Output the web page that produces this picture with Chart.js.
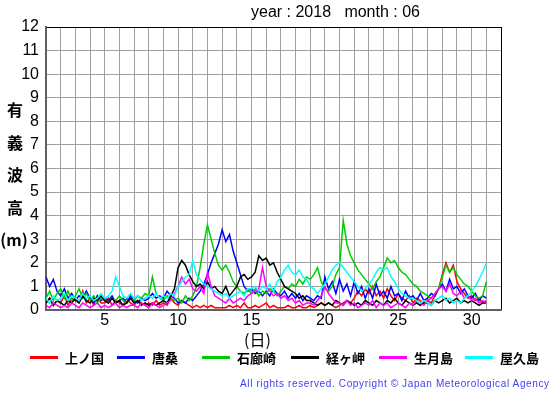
<!DOCTYPE html>
<html>
<head>
<meta charset="utf-8">
<script src="https://cdn.jsdelivr.net/npm/chart.js@4/dist/chart.umd.min.js"></script>
<style>
  body { margin: 0; background: #fff; }
  #wrap { position: relative; width: 555px; height: 395px; overflow: hidden; }
  #chart { position: absolute; left: 0; top: 0; }
  .txt { position: absolute; white-space: pre; color: #000; }
  .title { font: 16px "Liberation Sans", Arial, sans-serif; left: 251px; top: 3px; }
  .ylab { font: bold 16px "Noto Sans CJK JP", sans-serif; left: 6px; width: 18px; text-align: center; line-height: 18px; }
  .xlab { font: 16px "Noto Sans CJK JP", sans-serif; left: 244px; top: 327px; }
  .leg { position: absolute; top: 349px; height: 18px; }
  .leg span.line { position: absolute; left: 0; top: 7px; width: 28px; height: 3px; }
  .leg span.name { position: absolute; left: 35px; top: 0; font: bold 13px "Noto Sans CJK JP", sans-serif; line-height: 18px; white-space: pre; }
  .copy { font: 10px "Liberation Sans", Arial, sans-serif; color: #4040f0; left: 240px; top: 378px; letter-spacing: 0.63px; }
</style>
</head>
<body>
<div id="wrap">
  <canvas id="chart" width="555" height="395"></canvas>
  <div class="txt title">year : 2018   month : 06</div>
  <div class="txt ylab" style="top:100px">有</div>
  <div class="txt ylab" style="top:133px">義</div>
  <div class="txt ylab" style="top:165px">波</div>
  <div class="txt ylab" style="top:198px">高</div>
  <div class="txt ylab" style="top:230px;left:0;width:28px">(m)</div>
  <div class="txt xlab">(日)</div>
  <div id="legend"></div>
  <div class="txt copy">All rights reserved. Copyright © Japan Meteorological Agency</div>
</div>
<script>
// wave height (m), every 6 hours from June 1 00:00 to July 1 00:00
const stations = ['上ノ国', '唐桑', '石廊崎', '経ヶ岬', '生月島', '屋久島'];
const colors = ['#ff0000', '#0000ff', '#00cc00', '#000000', '#ff00ff', '#00ffff'];
const startDay = 1;
const step = 0.25;
const yTicks = [0, 1, 2, 3, 4, 5, 6, 7, 8, 9, 10, 11, 12];
const xTickLabels = [5, 10, 15, 20, 25, 30];

const kaminokuni = [
  .3,.5,.2,.4, .3,.6,.2,.5, .4,.3,.8,.3, .5,.2,.6,.3, .3,.5,.2,.4,
  .3,.2,.5,.3, .2,.4,.3,.2, .3,.2,.4,.2, .3,.2,.5,.3, .2,.4,.3,.2,
  .1,.2,.1,.2, .1,.2,.1,.1, .1,.1,.2,.1, .2,.1,.3,.1, .1,.2,.1,.2,
  .3,.1,.2,.1, .1,.1,.2,.1, .1,.2,.1,.1, .2,.1,.2,.3, .2,.3,.2,.1,
  .2,.3,.4,.3, .5,.8,.6,.9, .7,1.0,.6,.8, .5,.9,.6,.4, .7,.5,.4,.6,
  .3,.5,.4,.3, .4,.3,.6,.9, 1.5,2.0,1.6,1.9, 1.2,.9,.7,.5, .6,.4,.5,.3,
  .4
];
const karakuwa = [
  1.4,1.0,1.3,.8, .6,.9,.5,.7, .4,.6,.5,.8, .5,.3,.6,.4, .5,.4,.6,.3,
  .4,.5,.3,.6, .4,.3,.5,.4, .5,.7,.5,.6, .5,.8,.6,.5, .3,.4,.3,.5,
  .4,.6,.8,1.1, 1.5,2.0,2.4,2.8, 3.4,2.9,3.2,2.5, 2.0,1.5,1.0,.8, .9,.7,.8,.6,
  .8,.6,.9,.7, .6,.8,.5,.7, .5,.7,.4,.6, .5,.4,.6,.5, 1.4,.9,1.2,.7,
  1.3,.8,1.1,.6, 1.2,.7,1.0,.5, .9,.5,1.1,.6, .8,.5,1.0,.6, .7,.4,.8,.5,
  .6,.4,.7,.4, .5,.7,.6,.9, 1.1,.8,1.3,.9, 1.0,.7,.9,.6, .5,.7,.4,.6,
  .5
];
const irozaki = [
  .5,.8,.4,.7, .9,.5,.8,.4, .6,.9,.5,.7, .4,.6,.3,.5, .4,.3,.5,.4,
  .6,.4,.3,.5, .4,.6,.5,.7, .6,1.4,.7,.5, .4,.6,.5,.4, .5,.3,.6,.4,
  .6,1.0,1.8,2.8, 3.6,3.0,2.4,1.9, 1.7,1.9,1.6,1.2, 1.0,.8,.7,.9, .7,.9,.6,.8,
  .7,.9,.8,.6, .8,1.0,.9,1.1, 1.0,1.3,1.1,1.4, 1.3,1.5,1.8,1.2, .9,.8,1.0,1.5,
  1.8,3.8,2.8,2.3, 2.0,1.7,1.5,1.3, 1.1,.9,1.2,1.4, 1.8,2.2,2.0,2.1, 1.8,1.6,1.5,1.3,
  1.1,1.0,.8,.7, .6,.5,.7,.9, 1.4,1.9,1.6,1.8, 1.5,1.3,1.1,1.0, .8,.6,.5,.6,
  1.2
];
const kyogamisaki = [
  .3,.5,.2,.4, .3,.2,.4,.3, .5,.3,.6,.4, .3,.5,.4,.6, .4,.3,.5,.3,
  .4,.2,.3,.5, .3,.4,.2,.3, .2,.3,.2,.3, .4,.3,.6,.9, 1.8,2.1,1.9,1.5,
  1.2,1.0,1.1,.9, 1.2,.9,1.0,.8, .7,1.0,.6,.8, 1.0,1.4,1.5,1.3, 1.4,1.6,2.3,2.1,
  2.2,1.9,2.0,1.6, 1.3,1.0,.9,.8, .7,.5,.6,.4, .4,.3,.2,.3, .2,.3,.2,.4,
  .3,.2,.4,.3, .2,.3,.2,.4, .3,.2,.4,.3, .2,.4,.3,.5, .3,.2,.4,.3,
  .2,.3,.2,.3, .3,.2,.4,.3, .4,.5,.3,.4, .5,.3,.4,.3, .4,.3,.2,.3,
  .3
];
const ikitsukishima = [
  .2,.1,.3,.2, .1,.2,.1,.3, .2,.1,.3,.2, .1,.2,.3,.1, .2,.1,.2,.3,
  .1,.2,.1,.2, .2,.1,.3,.2, .1,.3,.2,.1, .2,.3,.4,.7, 1.0,1.4,1.1,1.3,
  .9,.8,1.0,.7, 1.6,1.0,.6,.5, .4,.3,.5,.3, .4,.5,.4,.6, .7,.8,.9,1.8,
  1.0,.8,.6,.7, .5,.6,.4,.5, .3,.4,.2,.3, .3,.2,.4,.6, 1.0,.7,.5,.3,
  .3,.2,.4,.2, .3,.1,.2,.3, .2,.4,.1,.3, .2,.3,.1,.2, .3,.2,.1,.3,
  .2,.4,.3,.2, .4,.5,.7,.9, 1.0,.8,1.1,.7, .6,.8,.5,.6, .4,.5,.3,.4,
  .3
];
const yakushima = [
  .5,.3,.6,.4, .5,.7,.4,.6, .5,.4,.7,.5, .6,.4,.5,.7, .5,.6,.8,1.4,
  1.0,.6,.5,.7, .5,.6,.4,.5, .6,.5,.7,.5, .6,.5,.7,.6, 1.0,1.2,1.4,1.5,
  2.1,1.5,1.3,1.1, 1.0,.9,.8,.7, .6,.7,.5,.6, .7,.8,.6,.9, .9,1.0,.8,1.0,
  .9,1.1,.8,1.2, 1.4,1.7,1.9,1.6, 1.5,1.7,1.4,1.3, 1.0,.9,.7,.9, 1.1,1.4,1.7,1.9,
  2.0,1.8,1.6,1.4, 1.2,1.0,.8,.9, 1.1,1.3,1.6,1.8, 1.7,1.8,1.4,1.2, .9,.7,.6,.5,
  .5,.4,.3,.4, .3,.2,.4,.5, .6,.4,.5,.3, .4,.3,.5,.6, .8,1.0,1.3,1.6,
  2.0
];
const series = [kaminokuni, karakuwa, irozaki, kyogamisaki, ikitsukishima, yakushima];

const toPoints = vals => vals.map((v, i) => ({ x: startDay + i * step, y: v }));

const ctx = document.querySelector('#chart').getContext('2d');

new Chart(ctx, {
  type: 'line',
  data: {
    datasets: series.map((vals, i) => ({
      label: stations[i],
      data: toPoints(vals),
      borderColor: colors[i],
      borderWidth: 1.5,
      pointRadius: 0,
      tension: 0,
      order: stations.length - i
    }))
  },
  options: {
    responsive: false,
    animation: false,
    devicePixelRatio: 1,
    layout: { padding: { left: 0, top: 27, right: 54, bottom: 66 } },
    plugins: { legend: { display: false }, tooltip: { enabled: false } },
    scales: {
      x: {
        type: 'linear',
        min: 1,
        max: 32,
        afterFit: s => { s.height = 19; },
        afterBuildTicks: s => { s.ticks = Array.from({ length: 32 }, (_, i) => ({ value: i + 1 })); },
        ticks: {
          autoSkip: false,
          maxRotation: 0,
          padding: 1,
          color: '#000',
          font: { family: 'Liberation Sans', size: 16 },
          callback: v => xTickLabels.includes(v) ? String(v) : ''
        },
        grid: {
          drawTicks: false,
          color: c => c.tick && c.tick.value === 32 ? '#000' : '#a0a0a0',
          lineWidth: 1
        },
        border: { color: '#606060', width: 2 }
      },
      y: {
        min: 0,
        max: 12,
        afterFit: s => { s.width = 46; },
        afterBuildTicks: s => { s.ticks = yTicks.map(v => ({ value: v })); },
        ticks: {
          padding: 7,
          color: '#000',
          font: { family: 'Liberation Sans', size: 16 }
        },
        grid: {
          drawTicks: false,
          color: c => c.tick && c.tick.value === 12 ? '#000' : '#a0a0a0',
          lineWidth: 1
        },
        border: { color: '#606060', width: 2 }
      }
    }
  }
});

// legend
const legendX = [30, 117, 202, 291, 379, 465];
const legend = document.querySelector('#legend');
stations.forEach((name, i) => {
  const item = document.createElement('div');
  item.className = 'leg';
  item.style.left = legendX[i] + 'px';
  item.innerHTML = `<span class="line" style="background:${colors[i]}"></span><span class="name">${name}</span>`;
  legend.appendChild(item);
});
</script>
</body>
</html>
